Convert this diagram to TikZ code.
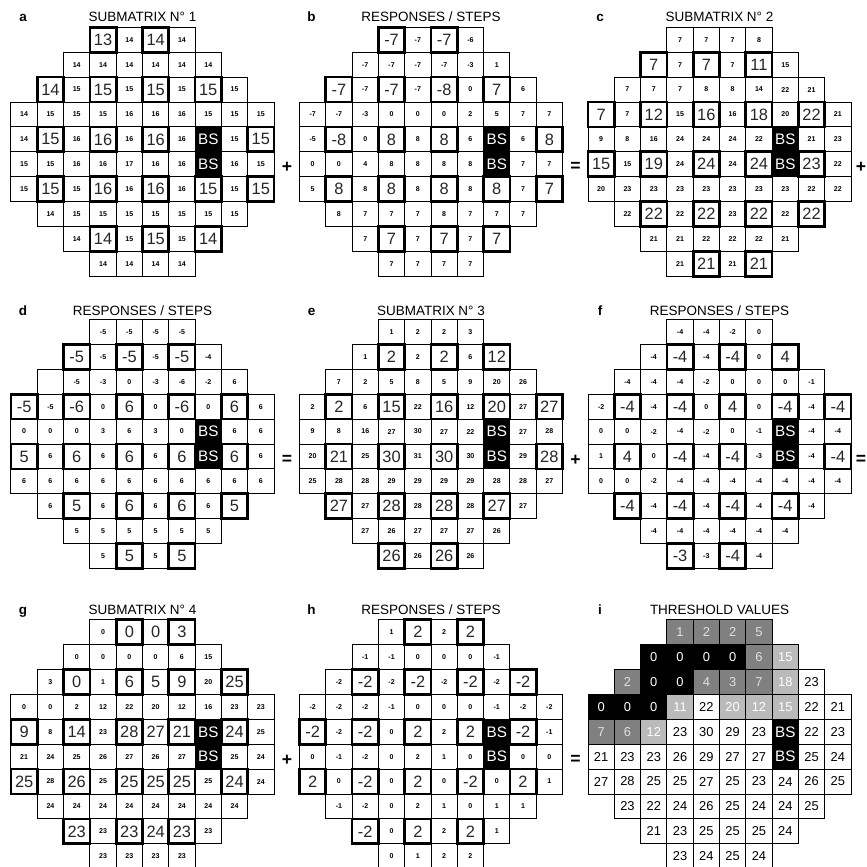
\documentclass[tikz,border=0pt]{standalone}
\usepackage{fontspec}
\setmainfont{Liberation Sans}
\usetikzlibrary{positioning}

\newcommand{\cellw}{26.3}
\newcommand{\cellh}{24.9}
% one field of 76 points: #1 name, #2 left, #3 top, #4 rows (type/value)
\newcommand{\fieldgrid}[4]{%
  \foreach \row [count=\ri] in {#4} {
    \foreach \ty/\val [count=\ci from 0] in \row {
      \pgfmathtruncatemacro{\colno}{max(0,4-\ri,\ri-7)+\ci}
      \node[\ty] (#1-\ri-\colno) at ({#2+(\colno+0.5)*\cellw},{#3+(\ri-0.5)*\cellh}) {\val};
    }
  }
}

\begin{document}
\begin{tikzpicture}[x=0.3mm, y=-0.3mm,
    cell/.style={draw, line width=0.3mm, minimum width=7.89mm,
                 minimum height=7.47mm, inner sep=0pt, outer sep=0pt},
    cs/.style={cell, font=\fontsize{6}{6}\selectfont\bfseries},
    cb/.style={cell, line width=0.8mm, text=black!85, font=\fontsize{14}{14}\selectfont},
    cl/.style={cell, text=black!85, font=\fontsize{14}{14}\selectfont},
    ce/.style={cell},
    cx/.style={cell, fill=black, text=white, font=\fontsize{13}{13}\selectfont},
    ck/.style={cell, fill=black, text=white, font=\fontsize{11}{11}\selectfont},
    cd/.style={cell, fill=black!50, text=black!12, font=\fontsize{11}{11}\selectfont},
    cg/.style={cell, fill=black!27, text=white, font=\fontsize{11}{11}\selectfont},
    cw/.style={cell, font=\fontsize{11}{11}\selectfont},
    ttl/.style={anchor=base, font=\fontsize{11.5}{12}\selectfont},
    tag/.style={anchor=base, font=\fontsize{11.5}{12}\selectfont\bfseries},
    op/.style={font=\fontsize{15}{15}\selectfont\bfseries},
]
\useasboundingbox (0,0) rectangle (867,867);

% --- a: submatrix 1 ---
\node[tag] (tag-a) at (23,21) {a};
\node[ttl] (ttl-a) at (142.5,21.5) {SUBMATRIX N° 1};
\fieldgrid{a}{11}{27.3}{
  {cb/13,cs/14,cb/14,cs/14},
  {cs/14,cs/14,cs/14,cs/14,cs/14,cs/14},
  {cb/14,cs/15,cb/15,cs/15,cb/15,cs/15,cb/15,cs/15},
  {cs/14,cs/15,cs/15,cs/15,cs/16,cs/16,cs/16,cs/15,cs/15,cs/15},
  {cs/14,cb/15,cs/16,cb/16,cs/16,cb/16,cs/16,cx/BS,cs/15,cb/15},
  {cs/15,cs/15,cs/16,cs/16,cs/17,cs/16,cs/16,cx/BS,cs/16,cs/15},
  {cs/15,cb/15,cs/15,cb/16,cs/16,cb/16,cs/16,cb/15,cs/15,cb/15},
  {cs/14,cs/15,cs/15,cs/15,cs/15,cs/15,cs/15,cs/15},
  {cs/14,cb/14,cs/15,cb/15,cs/15,cb/14},
  {cs/14,cs/14,cs/14,cs/14}}

% --- b: responses ---
\node[tag] (tag-b) at (311.5,21) {b};
\node[ttl] (ttl-b) at (431,21.5) {RESPONSES / STEPS};
\fieldgrid{b}{299.5}{27.3}{
  {cb/-7,cs/-7,cb/-7,cs/-6},
  {cs/-7,cs/-7,cs/-7,cs/-7,cs/-3,cs/1},
  {cb/-7,cs/-7,cb/-7,cs/-7,cb/-8,cs/0,cb/7,cs/6},
  {cs/-7,cs/-7,cs/-3,cs/0,cs/0,cs/0,cs/2,cs/5,cs/7,cs/7},
  {cs/-5,cb/-8,cs/0,cb/8,cs/8,cb/8,cs/6,cx/BS,cs/6,cb/8},
  {cs/0,cs/0,cs/4,cs/8,cs/8,cs/8,cs/8,cx/BS,cs/7,cs/7},
  {cs/5,cb/8,cs/8,cb/8,cs/8,cb/8,cs/8,cb/8,cs/7,cb/7},
  {cs/8,cs/7,cs/7,cs/7,cs/8,cs/7,cs/7,cs/7},
  {cs/7,cb/7,cs/7,cb/7,cs/7,cb/7},
  {cs/7,cs/7,cs/7,cs/7}}

% --- c: submatrix 2 ---
\node[tag] (tag-c) at (600,21) {c};
\node[ttl] (ttl-c) at (719.5,21.5) {SUBMATRIX N° 2};
\fieldgrid{c}{588}{27.3}{
  {cs/7,cs/7,cs/7,cs/8},
  {cb/7,cs/7,cb/7,cs/7,cb/11,cs/15},
  {cs/7,cs/7,cs/7,cs/8,cs/8,cs/14,cs/22,cs/21},
  {cb/7,cs/7,cb/12,cs/15,cb/16,cs/16,cb/18,cs/20,cb/22,cs/21},
  {cs/9,cs/8,cs/16,cs/24,cs/24,cs/24,cs/22,cx/BS,cs/21,cs/23},
  {cb/15,cs/15,cb/19,cs/24,cb/24,cs/24,cb/24,cx/BS,cb/23,cs/22},
  {cs/20,cs/23,cs/23,cs/23,cs/23,cs/23,cs/23,cs/23,cs/22,cs/22},
  {cs/22,cb/22,cs/22,cb/22,cs/23,cb/22,cs/22,cb/22},
  {cs/21,cs/21,cs/22,cs/22,cs/22,cs/21},
  {cs/21,cb/21,cs/21,cb/21}}

% --- d: responses ---
\node[tag] (tag-d) at (23,315) {d};
\node[ttl] (ttl-d) at (142.5,315) {RESPONSES / STEPS};
\fieldgrid{d}{11}{319.5}{
  {cs/-5,cs/-5,cs/-5,cs/-5},
  {cb/-5,cs/-5,cb/-5,cs/-5,cb/-5,cs/-4},
  {ce/{},cs/-5,cs/-3,cs/0,cs/-3,cs/-6,cs/-2,cs/6},
  {cb/-5,cs/-5,cb/-6,cs/0,cb/6,cs/0,cb/-6,cs/0,cb/6,cs/6},
  {cs/0,cs/0,cs/0,cs/3,cs/6,cs/3,cs/0,cx/BS,cs/6,cs/6},
  {cb/5,cs/6,cb/6,cs/6,cb/6,cs/6,cb/6,cx/BS,cb/6,cs/6},
  {cs/6,cs/6,cs/6,cs/6,cs/6,cs/6,cs/6,cs/6,cs/6,cs/6},
  {cs/6,cb/5,cs/6,cb/6,cs/6,cb/6,cs/6,cb/5},
  {cs/5,cs/5,cs/5,cs/5,cs/5,cs/5},
  {cs/5,cb/5,cs/5,cb/5}}

% --- e: submatrix 3 ---
\node[tag] (tag-e) at (311.5,315) {e};
\node[ttl] (ttl-e) at (431,315) {SUBMATRIX N° 3};
\fieldgrid{e}{299.5}{319.5}{
  {cs/1,cs/2,cs/2,cs/3},
  {cs/1,cb/2,cs/2,cb/2,cs/6,cb/12},
  {cs/7,cs/2,cs/5,cs/8,cs/5,cs/9,cs/20,cs/26},
  {cs/2,cb/2,cs/6,cb/15,cs/22,cb/16,cs/12,cb/20,cs/27,cb/27},
  {cs/9,cs/8,cs/16,cs/27,cs/30,cs/27,cs/22,cx/BS,cs/27,cs/28},
  {cs/20,cb/21,cs/25,cb/30,cs/31,cb/30,cs/30,cx/BS,cs/29,cb/28},
  {cs/25,cs/28,cs/28,cs/29,cs/29,cs/29,cs/29,cs/28,cs/28,cs/27},
  {cb/27,cs/27,cb/28,cs/28,cb/28,cs/28,cb/27,cs/27},
  {cs/27,cs/26,cs/27,cs/27,cs/27,cs/26},
  {cb/26,cs/26,cb/26,cs/26}}

% --- f: responses ---
\node[tag] (tag-f) at (600,315) {f};
\node[ttl] (ttl-f) at (719.5,315) {RESPONSES / STEPS};
\fieldgrid{f}{588}{319.5}{
  {cs/-4,cs/-4,cs/-2,cs/0},
  {cs/-4,cb/-4,cs/-4,cb/-4,cs/0,cb/4},
  {cs/-4,cs/-4,cs/-4,cs/-2,cs/0,cs/0,cs/0,cs/-1},
  {cs/-2,cb/-4,cs/-4,cb/-4,cs/0,cb/4,cs/0,cb/-4,cs/-4,cb/-4},
  {cs/0,cs/0,cs/-2,cs/-4,cs/-2,cs/0,cs/-1,cx/BS,cs/-4,cs/-4},
  {cs/1,cb/4,cs/0,cb/-4,cs/-4,cb/-4,cs/-3,cx/BS,cs/-4,cb/-4},
  {cs/0,cs/0,cs/-2,cs/-4,cs/-4,cs/-4,cs/-4,cs/-4,cs/-4,cs/-4},
  {cb/-4,cs/-4,cb/-4,cs/-4,cb/-4,cs/-4,cb/-4,cs/-4},
  {cs/-4,cs/-4,cs/-4,cs/-4,cs/-4,cs/-4},
  {cb/-3,cs/-3,cb/-4,cs/-4}}

% --- g: submatrix 4 ---
\node[tag] (tag-g) at (23,614) {g};
\node[ttl] (ttl-g) at (142.5,614) {SUBMATRIX N° 4};
\fieldgrid{g}{11}{619.7}{
  {cs/0,cb/0,cl/0,cb/3},
  {cs/0,cs/0,cs/0,cs/0,cs/6,cs/15},
  {cs/3,cb/0,cs/1,cb/6,cl/5,cb/9,cs/20,cb/25},
  {cs/0,cs/0,cs/2,cs/12,cs/22,cs/20,cs/12,cs/16,cs/23,cs/23},
  {cb/9,cs/8,cb/14,cs/23,cb/28,cl/27,cb/21,cx/BS,cb/24,cs/25},
  {cs/21,cs/24,cs/25,cs/26,cs/27,cs/26,cs/27,cx/BS,cs/25,cs/24},
  {cb/25,cs/28,cb/26,cs/25,cb/25,cl/25,cb/25,cs/25,cb/24,cs/24},
  {cs/24,cs/24,cs/24,cs/24,cs/24,cs/24,cs/24,cs/24},
  {cb/23,cs/23,cb/23,cl/24,cb/23,cs/23},
  {cs/23,cs/23,cs/23,cs/23}}

% --- h: responses ---
\node[tag] (tag-h) at (311.5,614) {h};
\node[ttl] (ttl-h) at (431,614) {RESPONSES / STEPS};
\fieldgrid{h}{299.5}{619.7}{
  {cs/1,cb/2,cs/2,cb/2},
  {cs/-1,cs/-1,cs/0,cs/0,cs/0,cs/-1},
  {cs/-2,cb/-2,cs/-2,cb/-2,cs/-2,cb/-2,cs/-2,cb/-2},
  {cs/-2,cs/-2,cs/-2,cs/-1,cs/0,cs/0,cs/0,cs/-1,cs/-2,cs/-2},
  {cb/-2,cs/-2,cb/-2,cs/0,cb/2,cs/2,cb/2,cx/BS,cb/-2,cs/-1},
  {cs/0,cs/-1,cs/-2,cs/0,cs/2,cs/1,cs/0,cx/BS,cs/0,cs/0},
  {cb/2,cs/0,cb/-2,cs/0,cb/2,cs/0,cb/-2,cs/0,cb/2,cs/1},
  {cs/-1,cs/-2,cs/0,cs/2,cs/1,cs/0,cs/1,cs/1},
  {cb/-2,cs/0,cb/2,cs/2,cb/2,cs/1},
  {cs/0,cs/1,cs/2,cs/2}}

% --- i: thresholds ---
\node[tag] (tag-i) at (600,614) {i};
\node[ttl] (ttl-i) at (719.5,614) {THRESHOLD VALUES};
\fieldgrid{i}{588}{619.7}{
  {cd/1,cd/2,cd/2,cd/5},
  {ck/0,ck/0,ck/0,ck/0,cd/6,cg/15},
  {cd/2,ck/0,ck/0,cd/4,cd/3,cd/7,cg/18,cw/23},
  {ck/0,ck/0,ck/0,cg/11,cw/22,cg/20,cg/12,cg/15,cw/22,cw/21},
  {cd/7,cd/6,cg/12,cw/23,cw/30,cw/29,cw/23,cx/BS,cw/22,cw/23},
  {cw/21,cw/23,cw/23,cw/26,cw/29,cw/27,cw/27,cx/BS,cw/25,cw/24},
  {cw/27,cw/28,cw/25,cw/25,cw/27,cw/25,cw/23,cw/24,cw/26,cw/25},
  {cw/23,cw/22,cw/24,cw/26,cw/25,cw/24,cw/24,cw/25},
  {cw/21,cw/23,cw/25,cw/25,cw/25,cw/24},
  {cw/23,cw/24,cw/25,cw/24}}

% --- operators between panels ---
\node[op] (op-ab) at (287,167) {+};
\node[op] (op-bc) at (575.5,167) {=};
\node[op] (op-c) at (861,167) {+};
\node[op] (op-de) at (287,460) {=};
\node[op] (op-ef) at (575.5,460) {+};
\node[op] (op-f) at (861,460) {=};
\node[op] (op-gh) at (287,760) {+};
\node[op] (op-hi) at (575.5,760) {=};

\end{tikzpicture}
\end{document}
